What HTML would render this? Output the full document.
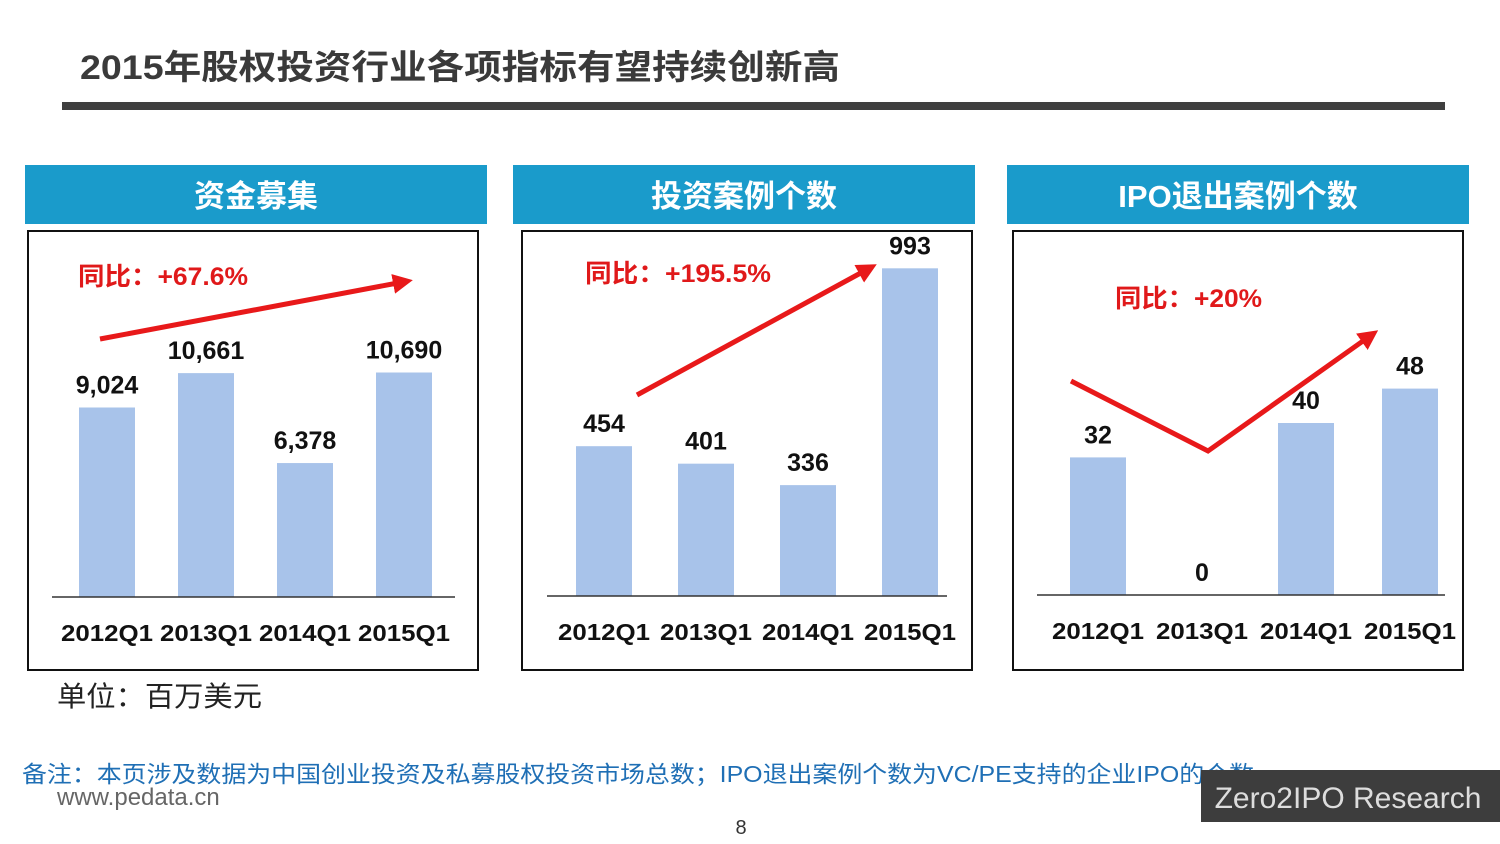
<!DOCTYPE html>
<html><head><meta charset="utf-8"><style>
body{margin:0;background:#fff;}
svg{display:block;font-family:"Liberation Sans","Noto Sans CJK SC",sans-serif;}
</style></head><body>
<svg id="s" width="1500" height="844" viewBox="0 0 1500 844">
<defs><marker id="ah" markerWidth="4" markerHeight="4" refX="2" refY="2" orient="auto" markerUnits="strokeWidth"><path d="M0,0 L4,2 L0,4 z" fill="#e8191a"/></marker></defs>
<text x="80" y="79" font-size="34" font-weight="bold" fill="#3a3a3a" textLength="760" lengthAdjust="spacingAndGlyphs">2015年股权投资行业各项指标有望持续创新高</text>
<rect x="62" y="102" width="1383" height="8" fill="#3f3f3f"/>
<g id="panels"></g>
<text x="57" y="706" font-size="28" fill="#222" textLength="205" lengthAdjust="spacingAndGlyphs">单位：百万美元</text>
<text x="22" y="782" font-size="23" fill="#1f6fb5" textLength="1232" lengthAdjust="spacingAndGlyphs">备注：本页涉及数据为中国创业投资及私募股权投资市场总数；IPO退出案例个数为VC/PE支持的企业IPO的个数</text>
<text x="57" y="805" font-size="24" fill="#666">www.pedata.cn</text>
<text x="741" y="834" font-size="20" fill="#333" text-anchor="middle">8</text>
<rect x="1201" y="770" width="299" height="52" fill="#3d3d3d"/>
<text x="1348" y="808" font-size="30" fill="#ddd" text-anchor="middle">Zero2IPO Research</text>
</svg>
<script>
const categories=["2012Q1","2013Q1","2014Q1","2015Q1"];
const fundValues=[9024,10661,6378,10690];
const fundLabels=["9,024","10,661","6,378","10,690"];
const invValues=[454,401,336,993];
const invLabels=["454","401","336","993"];
const ipoValues=[32,0,40,48];
const ipoLabels=["32","0","40","48"];
const NS="http://www.w3.org/2000/svg";
const g=document.getElementById('panels');
function mk(t,a,txt){const e=document.createElementNS(NS,t);for(const k in a)e.setAttribute(k,a[k]);if(txt!==undefined)e.textContent=txt;g.appendChild(e);return e;}
const panels=[
 {key:'fund',title:'资金募集',hx:25,bx:28,ax0:52,ax1:455,base:597,c0:107,step:99,scale:0.021,vals:fundValues,labs:fundLabels,
  yoy:'同比：+67.6%',tx:78,ty:285,tl:170,line:[[100,339],[403,282]]},
 {key:'investment',title:'投资案例个数',hx:513,bx:522,ax0:547,ax1:947,base:596,c0:604,step:102,scale:0.33,vals:invValues,labs:invLabels,
  yoy:'同比：+195.5%',tx:585,ty:282,tl:186,line:[[637,395],[868,269]]},
 {key:'ipo',title:'IPO退出案例个数',hx:1007,bx:1013,ax0:1037,ax1:1445,base:595,c0:1098,step:104,scale:4.3,vals:ipoValues,labs:ipoLabels,
  yoy:'同比：+20%',tx:1115,ty:307,tl:147,line:[[1071,381],[1208,451],[1370,336]]}
];
panels.forEach(p=>{
 let e;
 e=mk('rect',{x:p.hx,y:165,width:462,height:59,fill:'#1a9bcb'});
 
 
 e=mk('text',{x:p.hx+231,y:207,'font-size':31,'font-weight':'bold',fill:'#fff','text-anchor':'middle'},p.title);
 
 
 e=mk('rect',{x:p.bx,y:231,width:450,height:439,fill:'none',stroke:'#111','stroke-width':2});
 
 
 p.vals.forEach((v,i)=>{
  const cx=p.c0+i*p.step,h=v*p.scale;
  const b=mk('rect',{x:cx-28,y:p.base-h,width:56,height:h,fill:'#a8c3ea'});
  
  
  const t=mk('text',{x:cx,y:p.base-h-14,'font-size':25,'font-weight':'bold',fill:'#111','text-anchor':'middle'},p.labs[i]);
  
  
  const c=mk('text',{x:cx,y:p.base+44,'font-size':23,'font-weight':'bold',fill:'#111','text-anchor':'middle',textLength:92,lengthAdjust:'spacingAndGlyphs'},categories[i]);
  
  
 });
 e=mk('line',{x1:p.ax0,x2:p.ax1,y1:p.base,y2:p.base,stroke:'#333','stroke-width':1.5});
 
 
 e=mk('polyline',{points:p.line.map(q=>q.join(',')).join(' '),fill:'none',stroke:'#e8191a','stroke-width':5,'marker-end':'url(#ah)'});
 
 
 e=mk('text',{x:p.tx,y:p.ty,'font-size':25,'font-weight':'bold',fill:'#e0191a',textLength:p.tl,lengthAdjust:'spacingAndGlyphs'},p.yoy);
 
 
});
</script>
</body></html>
